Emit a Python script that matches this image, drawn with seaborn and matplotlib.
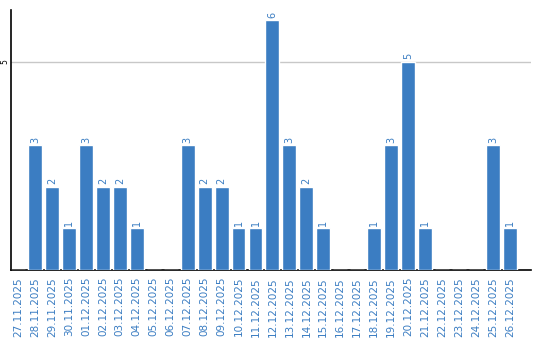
import matplotlib
matplotlib.use("Agg")
import matplotlib.pyplot as plt
import seaborn as sns
import pandas as pd

dates = ["27.11.2025", "28.11.2025", "29.11.2025", "30.11.2025", "01.12.2025",
         "02.12.2025", "03.12.2025", "04.12.2025", "05.12.2025", "06.12.2025",
         "07.12.2025", "08.12.2025", "09.12.2025", "10.12.2025", "11.12.2025",
         "12.12.2025", "13.12.2025", "14.12.2025", "15.12.2025", "16.12.2025",
         "17.12.2025", "18.12.2025", "19.12.2025", "20.12.2025", "21.12.2025",
         "22.12.2025", "23.12.2025", "24.12.2025", "25.12.2025", "26.12.2025"]
counts = [0, 3, 2, 1, 3, 2, 2, 1, 0, 0, 3, 2, 2, 1, 1, 6, 3, 2, 1, 0,
          0, 1, 3, 5, 1, 0, 0, 0, 3, 1]

BLUE = "#3b7dc2"
df = pd.DataFrame({"date": dates, "count": counts})

sns.set_style("white")
plt.rcParams["font.family"] = ["DejaVu Sans"]

fig = plt.figure(figsize=(5.4, 3.4), dpi=100)
ax = fig.add_axes([10.5 / 540, 70 / 340, (531 - 10.5) / 540, 260 / 340])

sns.barplot(data=df, x="date", y="count", color=BLUE, saturation=1,
            width=0.82, ax=ax, zorder=3)

for i, v in enumerate(counts):
    if v > 0:
        ax.text(i, v + 0.06, str(v), rotation=90, ha="center", va="bottom",
                color=BLUE, fontsize=7)

ax.set_xlim(-0.45, 30.25)
ax.set_ylim(0, 6.24)
ax.set_yticks([5])
ax.set_yticklabels(["5"], rotation=90, va="center", fontsize=5.5, color="black")
ax.yaxis.grid(True, color="#c8c8c8", linewidth=1, zorder=0)
ax.tick_params(axis="y", length=0, pad=1)
ax.tick_params(axis="x", length=0, pad=5)
ax.set_xticks(range(len(dates)))
ax.set_xticklabels(dates, rotation=90, color=BLUE, fontsize=7.5)
ax.set_xlabel("")
ax.set_ylabel("")

for s in ["top", "right"]:
    ax.spines[s].set_visible(False)
for s in ["left", "bottom"]:
    ax.spines[s].set_color("black")
    ax.spines[s].set_linewidth(1.2)

fig.savefig("out.png", dpi=100)
